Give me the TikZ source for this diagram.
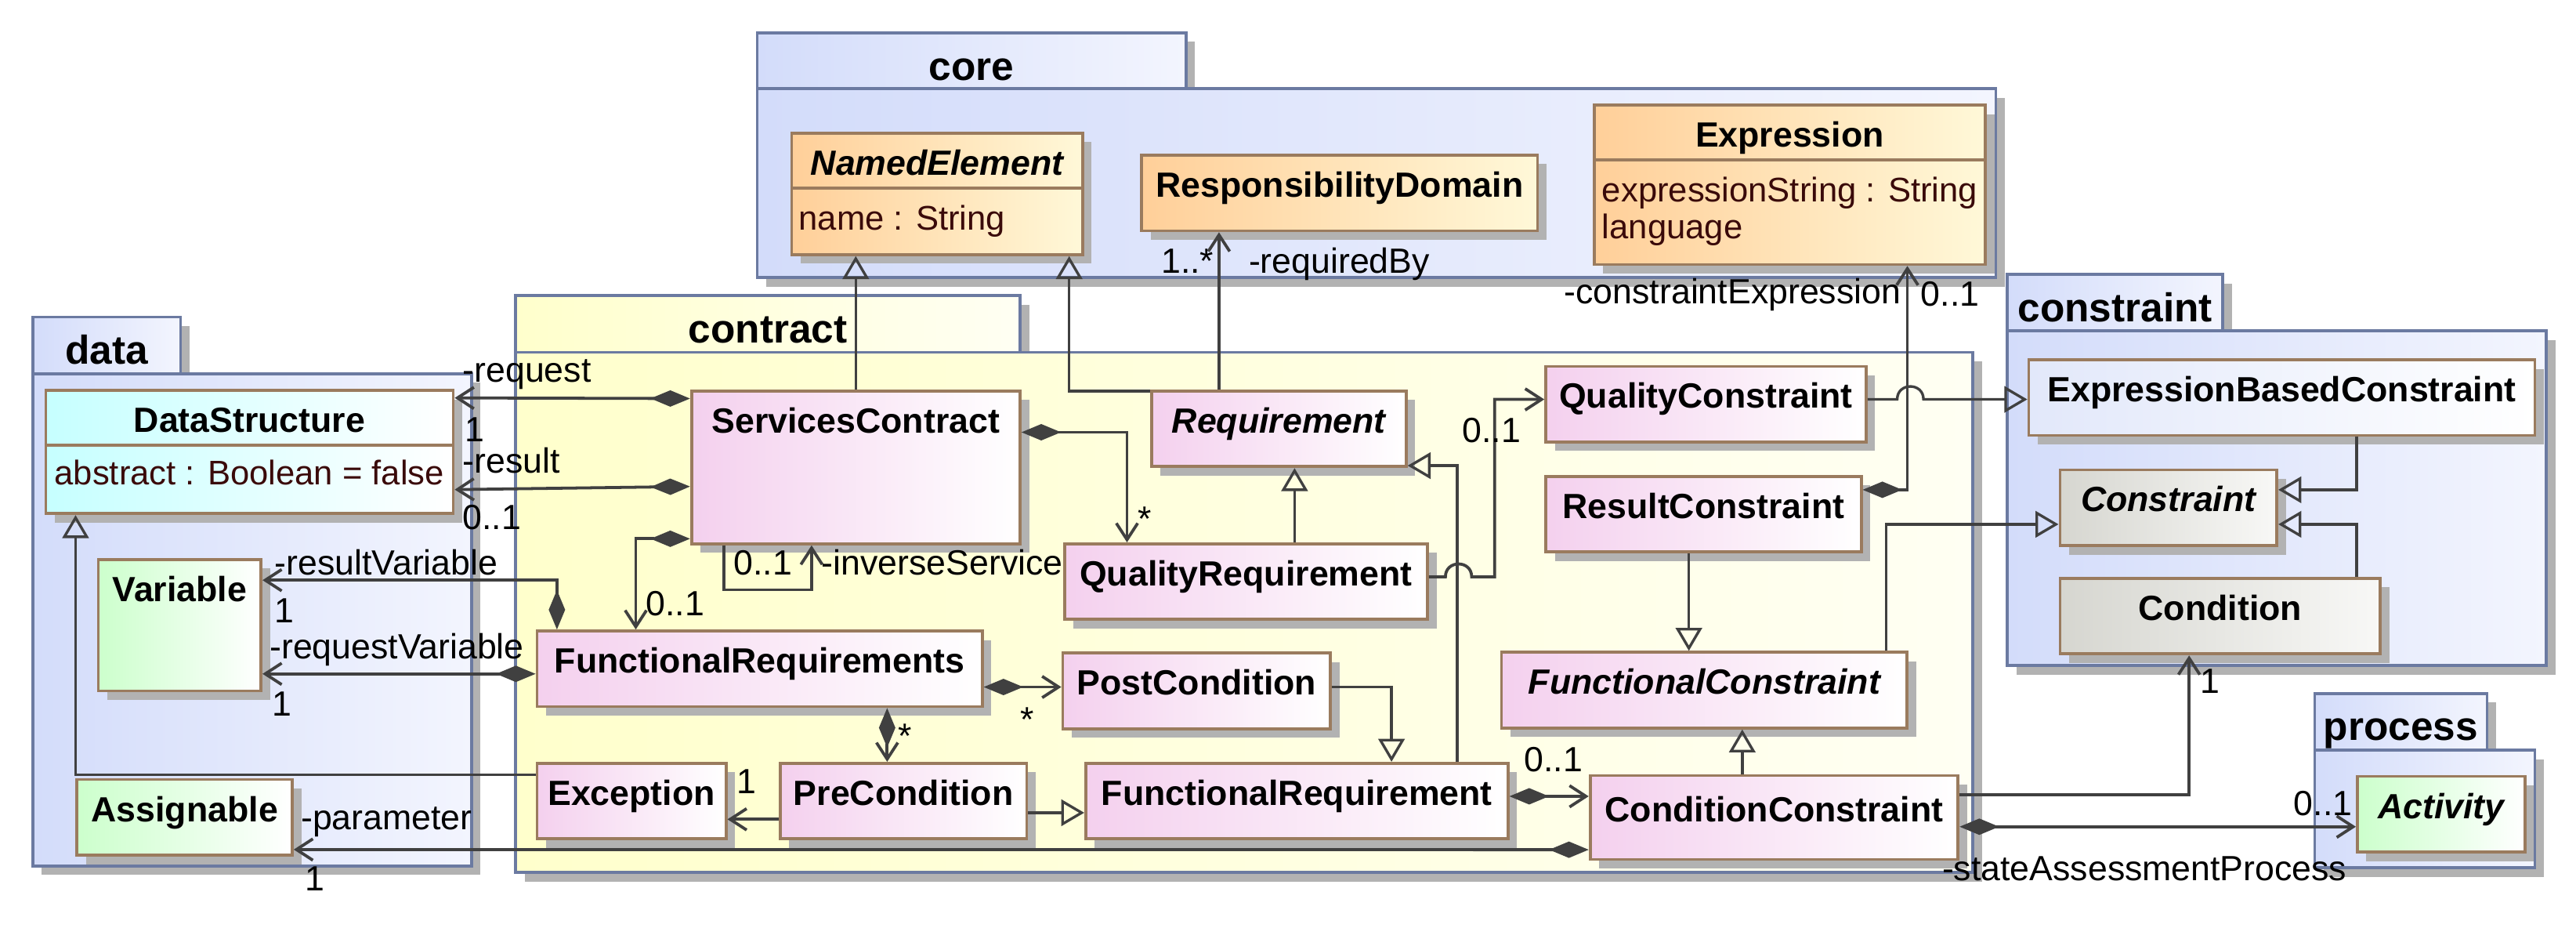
\documentclass[tikz,border=0pt]{standalone}
\usepackage{fontspec}
\setmainfont{Liberation Sans}
\usetikzlibrary{arrows.meta,shadows}

\definecolor{pkgline}{HTML}{6B7AA1}
\definecolor{pkgblue}{HTML}{D3DCFA}
\definecolor{pkgblueR}{HTML}{F3F5FE}
\definecolor{pkgyel}{HTML}{FFFFCC}
\definecolor{pkgyelR}{HTML}{FFFFF3}
\definecolor{clsline}{HTML}{9A7B5E}
\definecolor{orangeL}{HTML}{FFCF99}
\definecolor{orangeR}{HTML}{FFF8D8}
\definecolor{pinkL}{HTML}{F4D0EE}
\definecolor{cyanL}{HTML}{C6FFFF}
\definecolor{greenL}{HTML}{CCFFCC}
\definecolor{greyL}{HTML}{D6D6D0}
\definecolor{greyR}{HTML}{F8F8F6}
\definecolor{lavL}{HTML}{E2E8FA}
\definecolor{wire}{HTML}{404040}
\definecolor{attrtext}{HTML}{3A0A0A}
\definecolor{shadowgrey}{HTML}{B2B2B2}

\newcommand{\umlsize}{\fontsize{21.3}{25}\selectfont}
\newcommand{\attrsize}{\fontsize{20.8}{25}\selectfont}
\newcommand{\pkgsize}{\fontsize{24.5}{28}\selectfont}

\begin{document}
\begin{tikzpicture}[x=1pt, y=-1pt,
	dropshade/.style={drop shadow={shadow xshift=5.5pt, shadow yshift=-5.5pt, fill=shadowgrey, opacity=1}},
	pkg/.style={draw=pkgline, line width=1.8pt, anchor=north west, inner sep=0pt, dropshade, left color=pkgblue, right color=pkgblueR},
	pkgyellow/.style={left color=pkgyel, right color=pkgyelR},
	pkgtab/.style={pkg, minimum height=34.5pt, inner ysep=5.75pt, text height=23pt, text depth=0pt, font=\pkgsize\bfseries},
	cls/.style={draw=clsline, line width=1.8pt, anchor=north west, inner xsep=3pt, inner ysep=10pt, text height=15.5pt, text depth=10.5pt, font=\umlsize\bfseries, dropshade},
	abstr/.style={font=\umlsize\bfseries\itshape},
	fillorange/.style={left color=orangeL, right color=orangeR},
	fillpink/.style={left color=pinkL, right color=white},
	fillcyan/.style={left color=cyanL, right color=white},
	fillgreen/.style={left color=greenL, right color=white},
	fillgrey/.style={left color=greyL, right color=greyR},
	filllav/.style={left color=lavL, right color=white},
	attr/.style={anchor=base west, inner sep=0pt, font=\attrsize, text=attrtext},
	divider/.style={draw=clsline, line width=1.8pt},
	role/.style={anchor=base west, inner sep=0pt, font=\umlsize},
	assoc/.style={draw=wire, line width=1.8pt, -{Straight Barb[length=10pt, width=13pt]}},
	comp/.style={draw=wire, line width=1.8pt, {Diamond[length=24pt, width=10pt]}-{Straight Barb[length=10pt, width=13pt]}},
	gen/.style={draw=wire, line width=1.6pt, -{Triangle[open, length=14pt, width=16pt]}}]
	\useasboundingbox (0,0) rectangle (1568,564.6);

	\node[pkgtab, minimum width=261pt] (core-tab) at (460,19) {core};
	\node[pkg, minimum width=754pt, minimum height=115pt] (core) at (460,53) {};
	\node[pkgtab, minimum width=90pt] (data-tab) at (19,192) {data};
	\node[pkg, minimum width=267pt, minimum height=299.5pt] (data) at (19,226.5) {};
	\node[pkgtab, pkgyellow, minimum width=307pt] (contract-tab) at (313,179) {contract};
	\node[pkg, pkgyellow, minimum width=887pt, minimum height=316.5pt] (contract) at (313,213.5) {};
	\node[pkgtab, minimum width=131pt] (constraint-tab) at (1221,166) {constraint};
	\node[pkg, minimum width=328pt, minimum height=203.5pt] (constraint) at (1221,200.5) {};
	\node[pkgtab, minimum width=105pt] (process-tab) at (1408,421) {process};
	\node[pkg, minimum width=134pt, minimum height=71.5pt] (process) at (1408,455.5) {};

	\node[cls, fillorange, abstr, minimum width=177pt, text depth=38.5pt] (ne) at (481,80) {NamedElement};
	\node[cls, fillorange, minimum width=241pt] (rd) at (694,93.5) {ResponsibilityDomain};
	\node[cls, fillorange, minimum width=238pt, text depth=61.5pt] (ex) at (969.5,63) {Expression};
	\node[cls, fillcyan, minimum width=248pt, text depth=39.5pt] (ds) at (27,236.6) {DataStructure};
	\node[cls, fillgreen, minimum width=99pt, text depth=44.5pt] (var) at (59,339.5) {Variable};
	\node[cls, fillgreen, minimum width=131pt] (asg) at (46,473.4) {Assignable};
	\node[cls, fillpink, minimum width=200pt, text depth=57.5pt] (sc) at (420,237) {ServicesContract};
	\node[cls, fillpink, abstr, minimum width=155pt] (req) at (700,237) {Requirement};
	\node[cls, fillpink, minimum width=221pt] (qr) at (647,330) {QualityRequirement};
	\node[cls, fillpink, minimum width=195pt] (qc) at (940,222) {QualityConstraint};
	\node[cls, fillpink, minimum width=192pt] (rc) at (940,289) {ResultConstraint};
	\node[cls, fillpink, minimum width=271pt] (frs) at (326,383) {FunctionalRequirements};
	\node[cls, fillpink, minimum width=163pt] (pc) at (646,396.5) {PostCondition};
	\node[cls, fillpink, abstr, minimum width=247pt] (fc) at (913,396) {FunctionalConstraint};
	\node[cls, fillpink, minimum width=115pt] (exc) at (326,463.5) {Exception};
	\node[cls, fillpink, minimum width=150pt] (pre) at (474,463.5) {PreCondition};
	\node[cls, fillpink, minimum width=257pt] (freq) at (660,463.5) {FunctionalRequirement};
	\node[cls, fillpink, minimum width=224pt, minimum height=51pt] (cc) at (967,471) {ConditionConstraint};
	\node[cls, filllav, minimum width=308pt] (ebc) at (1234,218) {ExpressionBasedConstraint};
	\node[cls, fillgrey, abstr, minimum width=132pt] (con) at (1253,285) {Constraint};
	\node[cls, fillgrey, minimum width=195pt] (cond) at (1253,351) {Condition};
	\node[cls, fillgreen, abstr, minimum width=102pt] (act) at (1434,471.5) {Activity};

	\draw[divider] ([yshift=-34.3pt]ne.north west) -- ([yshift=-34.3pt]ne.north east);
	\draw[divider] ([yshift=-34.3pt]ex.north west) -- ([yshift=-34.3pt]ex.north east);
	\draw[divider] ([yshift=-34.3pt]ds.north west) -- ([yshift=-34.3pt]ds.north east);
	\node[attr] (ne-a) at ([xshift=5pt, yshift=-60pt]ne.north west) {name : String};
	\node[attr] (ex-a1) at ([xshift=5.5pt, yshift=-59.6pt]ex.north west) {expressionString : String};
	\node[attr] (ex-a2) at ([xshift=5.5pt, yshift=-82pt]ex.north west) {language};
	\node[attr] (ds-a) at ([xshift=6pt, yshift=-58.2pt]ds.north west) {abstract : Boolean = false};

	\draw[gen] (sc.north) -- (sc.north |- ne.south);
	\draw[gen] ([yshift=-1pt]req.north west) -| ([xshift=-9pt]ne.south east);
	\draw[assoc] ([xshift=42pt]req.north west) -- ([xshift=48pt]rd.south west);
	\draw[comp] ([yshift=-5.5pt]sc.north west) -- ([yshift=-5.5pt]ds.north east);
	\draw[comp] ([yshift=-59pt]sc.north west) -- ([yshift=15.5pt]ds.south east);
	\draw[comp] ([yshift=4pt]sc.south west) -| ([xshift=61pt]frs.north west);
	\draw[assoc] ([xshift=20.5pt]sc.south west) -- ++(0,27) -| ([xshift=74pt]sc.south west);
	\draw[comp] ([yshift=-26pt]sc.north east) -| ([xshift=39pt]qr.north west);
	\draw[gen] ([xshift=141pt]qr.north west) -- ([xshift=88pt]req.south west);
	\draw[gen] ([xshift=227pt]freq.north west) |- ([yshift=1.5pt]req.south east);
	\draw[assoc] ([yshift=-21pt]qr.north east) -- ++(10,0) .. controls +(0,-10.5) and +(0,-10.5) .. ++(16,0) -- ++(14,0) |- ([yshift=-21pt]qc.north west);
	\draw[gen] ([yshift=-21pt]qc.north east) -- ++(18,0) .. controls +(0,-10.5) and +(0,-10.5) .. ++(16,0) -- ([yshift=-25pt]ebc.north west);
	\draw[comp] ([yshift=-9pt]rc.north east) -| ([xshift=191.5pt]ex.south west);
	\draw[gen] ([xshift=88pt]rc.south west) -- ([xshift=115pt]fc.north west);
	\draw[gen] ([xshift=235pt]fc.north west) |- ([yshift=-34pt]con.north west);
	\draw[gen] ([xshift=200.5pt]ebc.south west) |- ([yshift=-13pt]con.north east);
	\draw[gen] ([xshift=181.5pt]cond.north west) |- ([yshift=-34pt]con.north east);
	\draw[gen] ([xshift=93.5pt]cc.north west) -- ([xshift=147.5pt]fc.south west);
	\draw[assoc] ([yshift=-12.5pt]cc.north east) -| ([xshift=79.5pt]cond.south west);
	\draw[comp] ([yshift=-32pt]cc.north east) -- ([yshift=-31.5pt]act.north west);
	\draw[comp] ([yshift=-21pt]freq.north east) -- ([yshift=-13.5pt]cc.north west);
	\draw[gen] ([yshift=-21.5pt]pc.north east) -| ([xshift=187pt]freq.north west);
	\draw[gen] ([yshift=-31pt]pre.north east) -- ([yshift=-31pt]freq.north west);
	\draw[assoc] ([yshift=-35pt]pre.north west) -- ([yshift=-35pt]exc.north east);
	\draw[comp] ([xshift=214pt]frs.south west) -- ([xshift=66pt]pre.north west);
	\draw[comp] ([yshift=-35pt]frs.north east) -- ([yshift=-21.5pt]pc.north west);
	\draw[comp] ([yshift=-27pt]frs.north west) -- ([yshift=-70.5pt]var.north east);
	\draw[comp] ([xshift=13pt]frs.north west) |- ([yshift=-13.5pt]var.north east);
	\draw[gen] ([yshift=-8pt]exc.north west) -| ([xshift=19pt]ds.south west);
	\draw[comp] ([yshift=-46pt]cc.north west) -- ([yshift=-43.5pt]asg.north east);

	\node[role] (l-request) at (281.5,232.7) {-request};
	\node[role] (l-request-m) at (283,268.6) {1};
	\node[role] (l-result) at (281.5,287.7) {-result};
	\node[role] (l-result-m) at (281.5,322) {0..1};
	\node[role] (l-resvar) at (167,349.7) {-resultVariable};
	\node[role] (l-resvar-m) at (167,379) {1};
	\node[role] (l-reqvar) at (164,401) {-requestVariable};
	\node[role] (l-reqvar-m) at (165.5,435.5) {1};
	\node[role] (l-param) at (183,505) {-parameter};
	\node[role] (l-param-m) at (185.5,542) {1};
	\node[role] (l-frs-m) at (393,374.4) {0..1};
	\node[role] (l-inv-m) at (446.5,349.6) {0..1};
	\node[role] (l-inv) at (500,349.6) {-inverseService};
	\node[role] (l-qr-m) at (692.5,323) {*};
	\node[role, anchor=base east] (l-reqby-m) at (739,166) {1..*};
	\node[role] (l-reqby) at (760,166) {-requiredBy};
	\node[role] (l-qc-m) at (890,269.4) {0..1};
	\node[role] (l-cexp) at (952,185) {-constraintExpression};
	\node[role] (l-cexp-m) at (1169,186) {0..1};
	\node[role] (l-pc-m) at (621,445.3) {*};
	\node[role] (l-pre-m) at (546.5,455) {*};
	\node[role] (l-exc-m) at (448.5,483) {1};
	\node[role] (l-cc-m) at (927.6,469.7) {0..1};
	\node[role] (l-cond-m) at (1339,422) {1};
	\node[role] (l-act-m) at (1396,496) {0..1};
	\node[role] (l-state) at (1182,536) {-stateAssessmentProcess};
\end{tikzpicture}
\end{document}
